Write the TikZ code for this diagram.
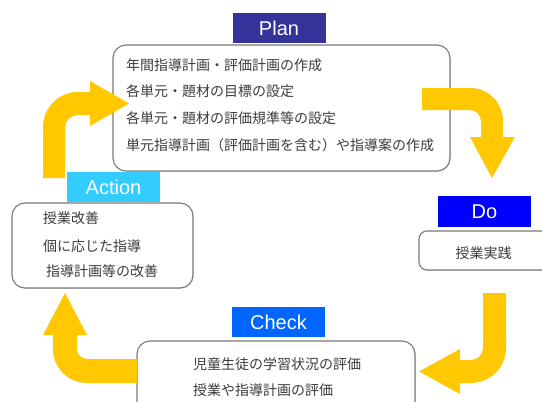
\documentclass[tikz,border=0pt]{standalone}
\usepackage{fontspec}
\setmainfont{Liberation Sans}
\newfontfamily\jpfont{Noto Sans CJK JP}
\usetikzlibrary{shadows}
\definecolor{flowyellow}{HTML}{FFC800}
\definecolor{boxgray}{HTML}{7A7A7A}
\definecolor{textgray}{HTML}{3C3C3C}
\definecolor{planblue}{HTML}{333399}
\definecolor{actionblue}{HTML}{33CCFF}
\definecolor{doblue}{HTML}{0000FF}
\definecolor{checkblue}{HTML}{0066FF}
\begin{document}
\begin{tikzpicture}[x=1pt,y=-1pt,
  box/.style={draw=boxgray, line width=1.1pt, fill=white, rounded corners=13pt, inner sep=0pt,
    drop shadow={shadow xshift=0.8pt, shadow yshift=-0.8pt, opacity=0.25}},
  phase/.style={text=white, font=\fontsize{20}{24}\selectfont, minimum width=93pt, minimum height=30pt, inner sep=0pt},
  jtext/.style={font=\jpfont\fontsize{14}{16}\selectfont, text=textgray, anchor=west, inner sep=0pt},
  flow/.style={fill=flowyellow}]
\useasboundingbox (0,0) rectangle (542,402);
\clip (0,0) rectangle (542,402);
\fill[white] (0,0) rectangle (542,402);

% boxes
\node[box, minimum width=337pt, minimum height=126pt] (planbox) at (281.5,108) {};
\node[box, minimum width=181pt, minimum height=85pt] (actionbox) at (102.5,245.5) {};
\node[box, rounded corners=8pt, minimum width=141pt, minimum height=39pt] (dobox) at (489.5,250.5) {};
\node[box, minimum width=278pt, minimum height=79pt] (checkbox) at (276,380.5) {};

% phase labels
\node[phase, fill=planblue] (planlabel) at (279,28) {Plan};
\node[phase, fill=actionblue] (actionlabel) at (113.5,187) {Action};
\node[phase, fill=doblue, minimum height=31pt] (dolabel) at (484.5,211.5) {Do};
\node[phase, fill=checkblue] (checklabel) at (278.5,322) {Check};

% texts
\node[jtext] (p1) at (126,65) {年間指導計画・評価計画の作成};
\node[jtext] (p2) at (126,91.5) {各単元・題材の目標の設定};
\node[jtext] (p3) at (126,118) {各単元・題材の評価規準等の設定};
\node[jtext] (p4) at (126,145) {単元指導計画（評価計画を含む）や指導案の作成};

\node[jtext] (a1) at (43,218) {授業改善};
\node[jtext] (a2) at (43,246.5) {個に応じた指導};
\node[jtext] (a3) at (46,271.5) {指導計画等の改善};

\node[jtext, anchor=center] (d1) at (483.5,253) {授業実践};

\node[jtext] (c1) at (193,364) {児童生徒の学習状況の評価};
\node[jtext] (c2) at (193,390) {授業や指導計画の評価};

% flow arrows
% Action -> Plan
\fill[flow] (43,178) -- (43,127) arc[start angle=180, end angle=270, radius=35]
  -- (90,92) -- (90,81) -- (129,103.5) -- (90,126) -- (90,115) -- (78,115)
  arc[start angle=270, end angle=180, radius=13] -- (65,178) -- cycle;
% Plan -> Do
\fill[flow] (422,88) -- (470,88) arc[start angle=270, end angle=360, radius=33]
  -- (503,137) -- (515,137) -- (492,178) -- (470,137) -- (481,137) -- (481,121)
  arc[start angle=0, end angle=-90, radius=11] -- (422,110) -- cycle;
% Do -> Check
\fill[flow] (483,293) -- (506,293) -- (506,348) arc[start angle=0, end angle=90, radius=35]
  -- (460,383) -- (460,394) -- (419,371.5) -- (460,349) -- (460,360) -- (471,360)
  arc[start angle=90, end angle=0, radius=12] -- cycle;
% Check -> Action
\fill[flow] (137,359) -- (137,383) -- (87,383) arc[start angle=90, end angle=180, radius=34]
  -- (53,335) -- (43,335) -- (65,293) -- (87,335) -- (77,335) -- (77,349)
  arc[start angle=180, end angle=90, radius=10] -- cycle;
\end{tikzpicture}
\end{document}
